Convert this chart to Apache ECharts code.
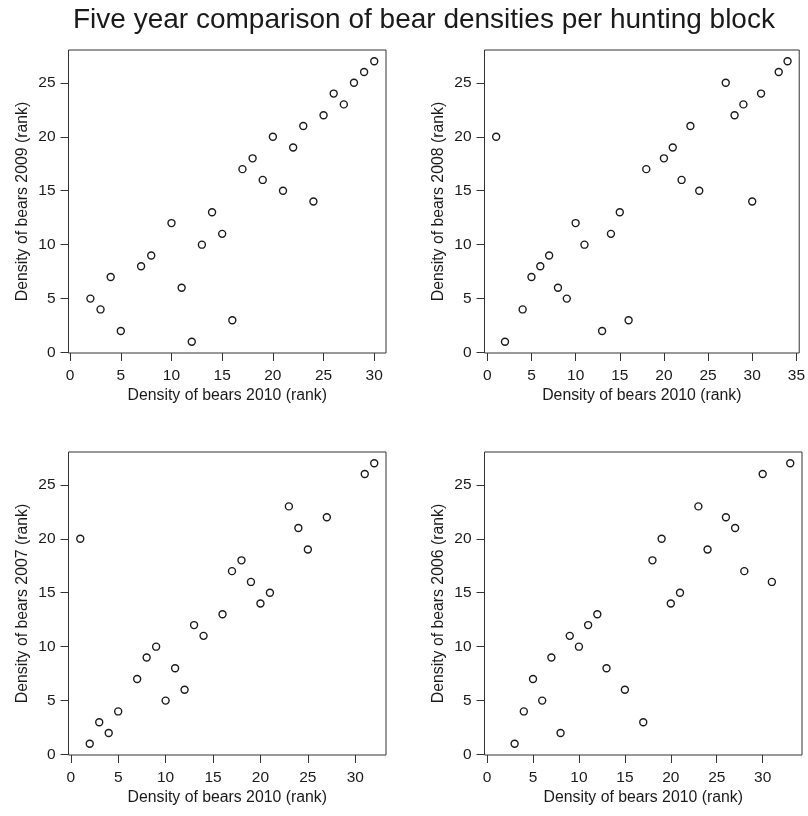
<!DOCTYPE html>
<html>
<head>
<meta charset="utf-8">
<title>Bear densities per hunting block</title>
<script src="https://cdn.jsdelivr.net/npm/echarts@6/dist/echarts.min.js"></script>
<style>
  html, body { margin: 0; padding: 0; background: #fff; }
  #chart { width: 808px; height: 816px; }
</style>
</head>
<body>
<div id="chart"></div>
<script>
// Ranks of bear density per hunting block: 2010 against each earlier year
const rank2010_a = [2, 3, 4, 5, 7, 8, 10, 11, 12, 13, 14, 15, 16, 17, 18, 19, 20, 21, 22, 23, 24, 25, 26, 27, 28, 29, 30];
const rank2009   = [5, 4, 7, 2, 8, 9, 12, 6, 1, 10, 13, 11, 3, 17, 18, 16, 20, 15, 19, 21, 14, 22, 24, 23, 25, 26, 27];

const rank2010_b = [1, 2, 4, 5, 6, 7, 8, 9, 10, 11, 13, 14, 15, 16, 18, 20, 21, 22, 23, 24, 27, 28, 29, 30, 31, 33, 34];
const rank2008   = [20, 1, 4, 7, 8, 9, 6, 5, 12, 10, 2, 11, 13, 3, 17, 18, 19, 16, 21, 15, 25, 22, 23, 14, 24, 26, 27];

const rank2010_c = [1, 2, 3, 4, 5, 7, 8, 9, 10, 11, 12, 13, 14, 16, 17, 18, 19, 20, 21, 23, 24, 25, 27, 31, 32];
const rank2007   = [20, 1, 3, 2, 4, 7, 9, 10, 5, 8, 6, 12, 11, 13, 17, 18, 16, 14, 15, 23, 21, 19, 22, 26, 27];

const rank2010_d = [3, 4, 5, 6, 7, 8, 9, 10, 11, 12, 13, 15, 17, 18, 19, 20, 21, 23, 24, 26, 27, 28, 30, 31, 33];
const rank2006   = [1, 4, 7, 5, 9, 2, 11, 10, 12, 13, 8, 6, 3, 18, 20, 14, 15, 23, 19, 22, 21, 17, 26, 16, 27];

// Tick labels
const xTicks30 = [0, 5, 10, 15, 20, 25, 30];
const xTicks35 = [0, 5, 10, 15, 20, 25, 30, 35];
const yTicks   = [0, 5, 10, 15, 20, 25];

const titleText = 'Five year comparison of bear densities per hunting block';
const xName = 'Density of bears 2010 (rank)';
const yNames = ['Density of bears 2009 (rank)', 'Density of bears 2008 (rank)',
                'Density of bears 2007 (rank)', 'Density of bears 2006 (rank)'];

const FONT = '"Liberation Sans", Arial, Helvetica, sans-serif';
const INK = '#1a1a1a';

// Axis range padded by 4% of the data span, like a classic base-graphics plot
function padRange(values) {
  const lo = Math.min(...values), hi = Math.max(...values);
  const pad = (hi - lo) * 0.04;
  return [lo - pad, hi + pad];
}

const panels = [
  { x: rank2010_a, y: rank2009, xr: padRange([1].concat(rank2010_a)), xt: xTicks30, yName: yNames[0], left: 68.5, top: 50 },
  { x: rank2010_b, y: rank2008, xr: padRange(rank2010_b), xt: xTicks35, yName: yNames[1], left: 484.5, top: 50 },
  { x: rank2010_c, y: rank2007, xr: padRange(rank2010_c), xt: xTicks30, yName: yNames[2], left: 68.5, top: 452 },
  { x: rank2010_d, y: rank2006, xr: padRange([1].concat(rank2010_d)), xt: xTicks30, yName: yNames[3], left: 484.5, top: 452 }
];

const yRange = padRange(rank2009.concat(rank2008, rank2007, rank2006));

const labelStyle = { color: INK, fontSize: 15.5, fontFamily: FONT };
const nameStyle = { color: INK, fontSize: 15.8, fontFamily: FONT };
const tickStyle = { show: true, inside: false, length: 8, lineStyle: { color: '#333', width: 1 } };

const option = {
  animation: false,
  backgroundColor: '#fff',
  title: {
    text: titleText,
    left: 73,
    top: 6,
    padding: 0,
    textStyle: { fontFamily: FONT, fontSize: 28, fontWeight: 'normal', color: INK }
  },
  grid: panels.map(p => ({
    left: p.left, top: p.top, width: 317.5, height: 303,
    show: true, borderColor: '#333', borderWidth: 1, backgroundColor: 'transparent',
    containLabel: false
  })),
  xAxis: panels.map((p, i) => ({
    type: 'value', gridIndex: i, min: p.xr[0], max: p.xr[1],
    name: xName, nameLocation: 'middle', nameGap: 35,
    nameTextStyle: nameStyle,
    axisLine: { show: false, onZero: false },
    axisTick: Object.assign({ customValues: p.xt }, tickStyle),
    axisLabel: Object.assign({ customValues: p.xt, margin: 15 }, labelStyle),
    splitLine: { show: false }
  })),
  yAxis: panels.map((p, i) => ({
    type: 'value', gridIndex: i, min: yRange[0], max: yRange[1],
    name: p.yName, nameLocation: 'middle', nameGap: 38,
    nameTextStyle: nameStyle,
    axisLine: { show: false, onZero: false },
    axisTick: Object.assign({ customValues: yTicks }, tickStyle),
    axisLabel: Object.assign({ customValues: yTicks, margin: 13 }, labelStyle),
    splitLine: { show: false }
  })),
  series: panels.map((p, i) => ({
    type: 'scatter', xAxisIndex: i, yAxisIndex: i,
    data: p.x.map((v, k) => [v, p.y[k]]),
    symbol: 'circle', symbolSize: 7,
    itemStyle: { color: '#fff', borderColor: INK, borderWidth: 1.4, opacity: 1 },
    emphasis: { disabled: true }
  }))
};

const chart = echarts.init(document.getElementById('chart'), null, { renderer: 'canvas' });
chart.setOption(option);
</script>
</body>
</html>
